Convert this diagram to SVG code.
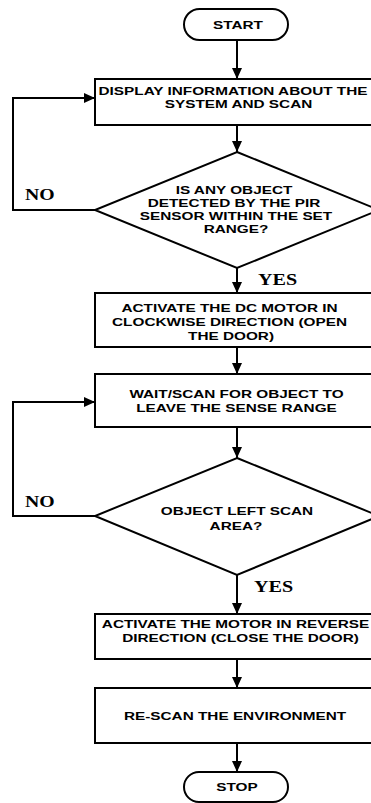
<svg xmlns="http://www.w3.org/2000/svg" width="371" height="803" viewBox="0 0 371 803">
<style>
.shape{fill:#fff;stroke:#000;stroke-width:2}
.t{font-family:"Liberation Sans",Arial,sans-serif;font-weight:bold;font-size:10.8px;fill:#000;text-anchor:middle}
.lbl{font-family:"Liberation Serif","Times New Roman",serif;font-weight:bold;font-size:16.5px;fill:#000}
.conn{fill:none;stroke:#000;stroke-width:2}
</style>
<defs>
<marker id="ah" markerUnits="userSpaceOnUse" markerWidth="11" markerHeight="10" refX="11" refY="5" orient="auto">
<path d="M0,0 L11,5 L0,10 z" fill="#000"/>
</marker>
</defs>
<rect width="371" height="803" fill="#fff"/>
<g id="connectors">
<path class="conn" d="M237,40 V79" marker-end="url(#ah)"/>
<path class="conn" d="M237,125 V152" marker-end="url(#ah)"/>
<path class="conn" d="M96,210 H13 V98 H95" marker-end="url(#ah)"/>
<path class="conn" d="M237,268 V293" marker-end="url(#ah)"/>
<path class="conn" d="M237,347 V374" marker-end="url(#ah)"/>
<path class="conn" d="M237,427 V458" marker-end="url(#ah)"/>
<path class="conn" d="M96,516 H13 V402 H95" marker-end="url(#ah)"/>
<path class="conn" d="M237,575 V614" marker-end="url(#ah)"/>
<path class="conn" d="M237,659 V688" marker-end="url(#ah)"/>
<path class="conn" d="M237,743 V772" marker-end="url(#ah)"/>
<text class="lbl" transform="translate(25,200) scale(1.2 1)">NO</text>
<text class="lbl" transform="translate(258,285) scale(1.22 1)">YES</text>
<text class="lbl" transform="translate(25,507) scale(1.2 1)">NO</text>
<text class="lbl" transform="translate(254,592) scale(1.22 1)">YES</text>
</g>
<g id="start">
<rect class="shape" x="184" y="9" width="104" height="31" rx="15.5"/>
<text class="t" transform="translate(238,29) scale(1.42 1)">START</text>
</g>
<g id="display">
<rect class="shape" x="95" y="79" width="290" height="46"/>
<text class="t" transform="translate(233,95) scale(1.42 1)">DISPLAY INFORMATION ABOUT THE</text>
<text class="t" transform="translate(238.5,107.5) scale(1.42 1)">SYSTEM AND SCAN</text>
</g>
<g id="decision1">
<polygon class="shape" points="237,152 379,210 237,268 95,210"/>
<text class="t" transform="translate(234,194) scale(1.42 1)">IS ANY OBJECT</text>
<text class="t" transform="translate(234,206.5) scale(1.42 1)">DETECTED BY THE PIR</text>
<text class="t" transform="translate(236,220) scale(1.42 1)">SENSOR WITHIN THE SET</text>
<text class="t" transform="translate(236,233) scale(1.42 1)">RANGE?</text>
</g>
<g id="open">
<rect class="shape" x="95" y="293" width="290" height="54"/>
<text class="t" transform="translate(229.5,311.5) scale(1.42 1)">ACTIVATE THE DC MOTOR IN</text>
<text class="t" transform="translate(229.5,325.5) scale(1.42 1)">CLOCKWISE DIRECTION (OPEN</text>
<text class="t" transform="translate(231,339.5) scale(1.42 1)">THE DOOR)</text>
</g>
<g id="wait">
<rect class="shape" x="95" y="374" width="290" height="53"/>
<text class="t" transform="translate(236.5,397.5) scale(1.42 1)">WAIT/SCAN FOR OBJECT TO</text>
<text class="t" transform="translate(236.5,411.5) scale(1.42 1)">LEAVE THE SENSE RANGE</text>
</g>
<g id="decision2">
<polygon class="shape" points="237,458 379,516 237,575 95,516"/>
<text class="t" transform="translate(237,515) scale(1.42 1)">OBJECT LEFT SCAN</text>
<text class="t" transform="translate(236,530) scale(1.42 1)">AREA?</text>
</g>
<g id="close">
<rect class="shape" x="95" y="614" width="290" height="45"/>
<text class="t" transform="translate(235.5,628) scale(1.42 1)">ACTIVATE THE MOTOR IN REVERSE</text>
<text class="t" transform="translate(240.5,642) scale(1.42 1)">DIRECTION (CLOSE THE DOOR)</text>
</g>
<g id="rescan">
<rect class="shape" x="95" y="688" width="290" height="55"/>
<text class="t" transform="translate(235,720) scale(1.42 1)">RE-SCAN THE ENVIRONMENT</text>
</g>
<g id="stop">
<rect class="shape" x="184" y="772" width="104" height="30" rx="15"/>
<text class="t" transform="translate(237,791) scale(1.42 1)">STOP</text>
</g>
</svg>
